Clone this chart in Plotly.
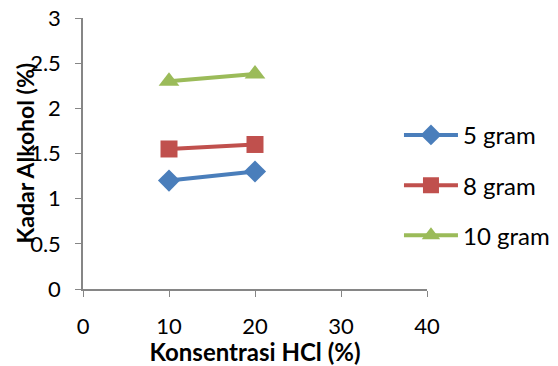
import plotly.graph_objects as go

x_hcl = [10, 20]
series_names = ["5 gram", "8 gram", "10 gram"]
y_5 = [1.2, 1.3]
y_8 = [1.55, 1.6]
y_10 = [2.3, 2.38]
colors = ["#4A7EBB", "#C0504D", "#9BBB59"]
symbols = ["diamond", "square", "triangle-up"]
sizes = [17, 17, 18]

fig = go.Figure()
for name, ys, c, s, sz in zip(series_names, [y_5, y_8, y_10], colors, symbols, sizes):
    fig.add_trace(go.Scatter(
        x=x_hcl, y=ys, name=name, mode="lines+markers",
        line=dict(color=c, width=4),
        marker=dict(symbol=s, size=sz, color=c),
        legendgroup=name,
    ))

font_family = "Lato, Open Sans, sans-serif"
fig.update_layout(
    width=558, height=366,
    margin=dict(l=83, r=131, t=18, b=77, autoexpand=False),
    paper_bgcolor="white", plot_bgcolor="white",
    font=dict(family=font_family, size=22, color="black"),
    showlegend=True,
    legend=dict(x=0.715, y=0.65, xref="container", xanchor="left", yanchor="top",
                font=dict(size=24), tracegroupgap=16, itemwidth=54,
                bgcolor="rgba(0,0,0,0)"),
    xaxis=dict(range=[0, 40], tickvals=[0, 10, 20, 30, 40], showgrid=False,
               showline=True, linecolor="#868686", linewidth=1.5,
               ticks="outside", ticklen=6, tickcolor="#868686",
               zeroline=False, tickfont=dict(size=22), ticklabelstandoff=11,
               automargin=False,
               title=dict(text="<b>Konsentrasi HCl (%)</b>", font=dict(size=24), standoff=5)),
    yaxis=dict(range=[0, 3], tickvals=[0, 0.5, 1, 1.5, 2, 2.5, 3], showgrid=False,
               showline=True, linecolor="#868686", linewidth=1.5,
               ticks="outside", ticklen=6, tickcolor="#868686",
               zeroline=False, tickfont=dict(size=22), ticklabelstandoff=10,
               automargin=False),
    annotations=[dict(text="<b>Kadar Alkohol (%)</b>", textangle=-90,
                      xref="paper", yref="paper", x=0, y=0.5, xanchor="center",
                      xshift=-59, showarrow=False, font=dict(size=23))],
)

fig.write_html("out.html")
